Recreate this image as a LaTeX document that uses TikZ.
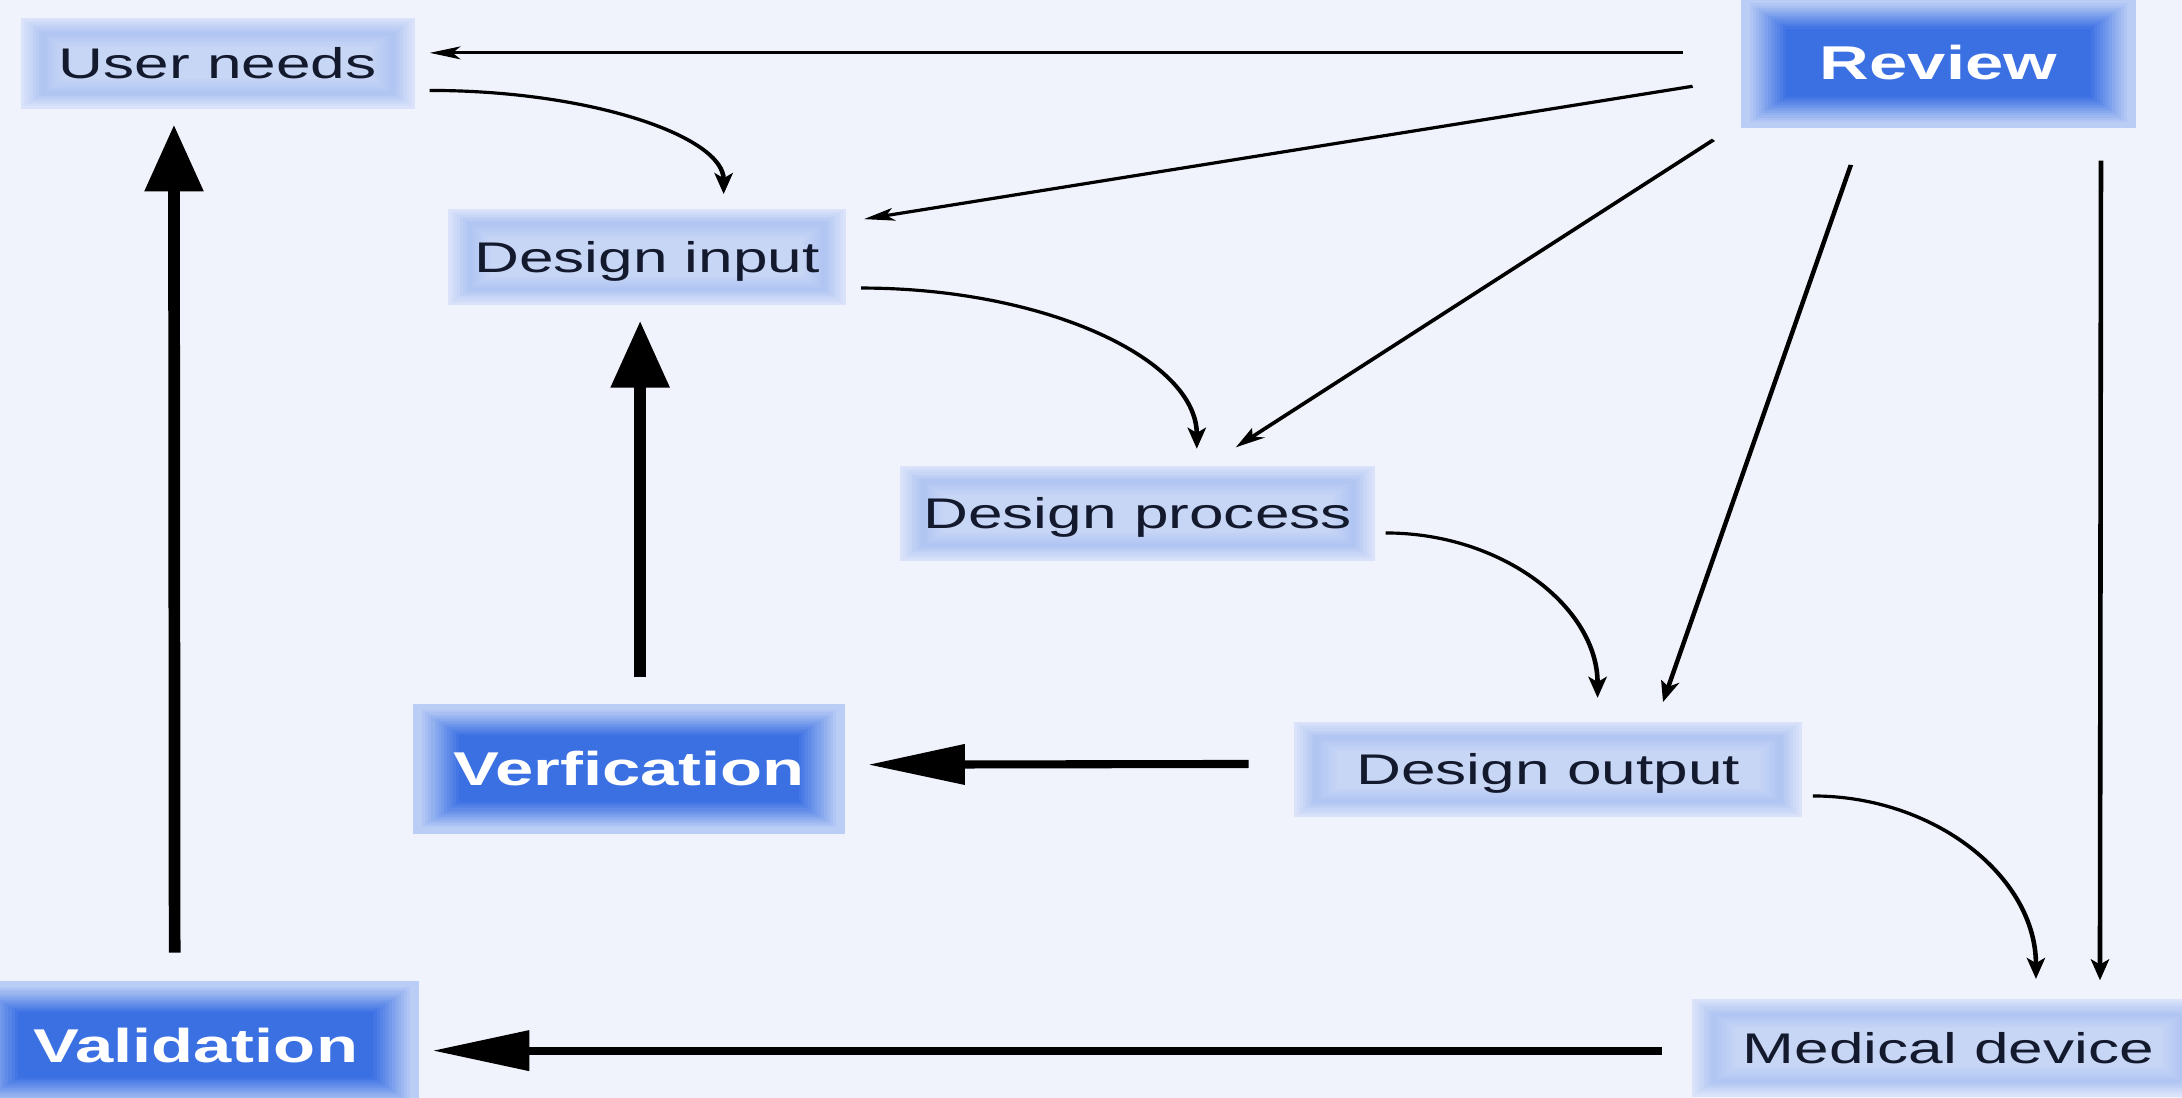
\documentclass[tikz,border=0pt]{standalone}
\usepackage{fontspec}
\setmainfont{Liberation Sans}
\usetikzlibrary{arrows.meta,calc}
\definecolor{bg}{HTML}{F0F3FB}
\definecolor{textc}{HTML}{141A2E}
\definecolor{Ledge}{HTML}{DAE3F9}
\definecolor{Lband}{HTML}{AFC4F2}
\definecolor{Lcen}{HTML}{C8D6F6}
\definecolor{Dedge}{HTML}{BACDF5}
\definecolor{Dcore}{HTML}{3B70E3}
\tikzset{
  conn/.style={line width=0.9pt, draw=black, -{Stealth[length=6pt,width=3.6pt,inset=1.5pt]}},
  bigconn/.style={line width=2.3pt, draw=black, -{Triangle[length=19pt,width=11pt]}},
  ltext/.style={font=\fontsize{12.2}{14}\selectfont, text=textc, text height=8.7pt, text depth=0pt},
  dtext/.style={font=\bfseries\fontsize{13.5}{16}\selectfont, text=white, text height=9.7pt, text depth=0pt},
}
\newcommand\boxnode[7]{%
  \node[#7, inner sep=0pt, minimum width={((#4)-(#2))*0.0095972cm}, minimum height={((#5)-(#3))*0.013916cm}]
    (#1) at ({((#2)+(#4))/2},{((#3)+(#5))/2}) {#6};
}
\newcommand\lbox[6]{%
  \foreach \d in {0,1.5,...,22.5}{%
    \pgfmathtruncatemacro\p{\d<10 ? \d*10 : min(100,(\d-10)*9)}%
    \ifdim\d pt<10pt
      \fill[Lband!\p!Ledge] ({#2+1.45*\d},{#3+\d}) rectangle ({#4-1.45*\d},{#5-\d});
    \else
      \fill[Lcen!\p!Lband] ({#2+1.45*\d},{#3+\d}) rectangle ({#4-1.45*\d},{#5-\d});
    \fi
  }
  \boxnode{#1}{#2}{#3}{#4}{#5}{#6}{ltext}
}
\newcommand\dbox[6]{%
  \foreach \d in {0,1.5,...,24}{%
    \pgfmathtruncatemacro\p{min(100,max(0,(\d-3)*100/19))}%
    \fill[Dcore!\p!Dedge] ({#2+1.45*\d},{#3+\d}) rectangle ({#4-1.45*\d},{#5-\d});
  }
  \boxnode{#1}{#2}{#3}{#4}{#5}{#6}{dtext}
}
\begin{document}
\begin{tikzpicture}
\useasboundingbox (0,0) rectangle (21.82cm,-10.98cm);
\clip (0,0) rectangle (21.82cm,-10.98cm);
\fill[bg] (0,0) rectangle (21.82cm,-10.98cm);
\begin{scope}[transform canvas={xscale=1.45}, x=0.0095972cm, y=-0.013916cm]
  \lbox{un}{15}{13}{298}{78}{User needs}
  \dbox{rev}{1251}{-2}{1535}{92}{Review}
  \lbox{di}{322}{150}{608}{219}{Design input}
  \lbox{dp}{647}{335}{988}{403}{Design process}
  \lbox{do}{930}{519}{1295}{587}{Design output}
  \dbox{ver}{297}{506}{607}{599}{Verfication}
  \lbox{md}{1216}{718}{1584}{788}{Medical device}
  \dbox{val}{-20}{705}{301}{797}{Validation}
  % thin connectors
  \draw[conn] ($(rev.west)+(-41,-7)$) -- ($(un.east)+(10,-7.5)$);
  \draw[conn] ($(un.east)+(10,19.5)$) .. controls +(117,0) and +(0,-41) .. ($(di.north)+(55,-10)$);
  \draw[conn] ($(rev.west)+(-34,17)$) -- ($(di.north east)+(12,8)$);
  \draw[conn] ($(di.east)+(10,22.5)$) .. controls +(133,0) and +(0,-64) .. ($(dp.north)+(42.5,-12)$);
  \draw[conn] ($(rev.south west)+(-19,8)$) -- ($(dp.north)+(70.5,-13)$);
  \draw[conn] ($(rev.south)+(-63,26)$) -- ($(do.north)+(82.5,-14)$);
  \draw[conn] ($(dp.east)+(7,14)$) .. controls +(84,0) and +(0,-65) .. ($(do.north)+(35.5,-17)$);
  \draw[conn] ($(rev.south east)+(-26,23)$) -- ($(md.north)+(109,-13)$);
  \draw[conn] ($(do.east)+(7,19)$) .. controls +(88,0) and +(0,-73) .. ($(md.north)+(63,-14)$);
  % thick connectors
  \draw[bigconn] ($(do.west)+(-32,-4)$) -- ($(ver.east)+(16,-3)$);
  \draw[bigconn] ($(ver.north)+(8,-19)$) -- ($(di.south)+(-5,11)$);
  \draw[bigconn] ($(md.west)+(-21,2)$) -- ($(val.east)+(9,4)$);
  \draw[bigconn] ($(val.north)+(-15,-20)$) -- ($(un.south)+(-31.5,11)$);
\end{scope}
\end{tikzpicture}
\end{document}
